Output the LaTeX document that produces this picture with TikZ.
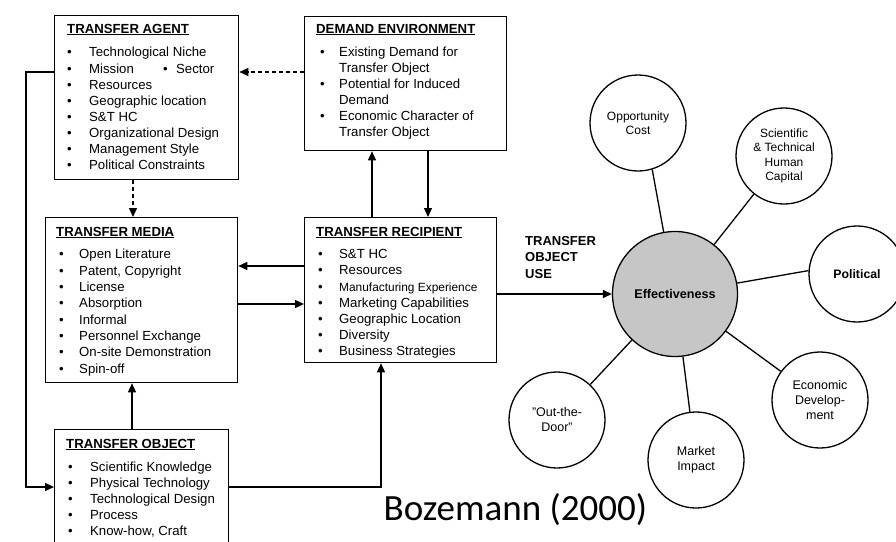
\documentclass[tikz,border=0pt]{standalone}
\usepackage{fontspec}
\setmainfont{Liberation Sans}
\newfontfamily\citefont{Carlito}
\usetikzlibrary{arrows.meta,calc}

% bullet with a fixed-width slot
\newcommand\bitem[1]{\makebox[#1][l]{\textbullet}}

\begin{document}
\begin{tikzpicture}[x=1pt,y=-1pt,
  box/.style={draw, line width=1.3pt, inner sep=0pt, anchor=north west},
  head/.style={anchor=base west, inner sep=0pt, font=\fontsize{13.2}{16}\selectfont\bfseries},
  items/.style={anchor=north west, inner sep=0pt, align=left},
  link/.style={line width=1.3pt},
  dashlink/.style={line width=1.3pt, dash pattern=on 4pt off 3pt},
  tip/.style={-{Triangle[length=9pt,width=8pt]}},
  ball/.style={circle, draw, line width=1.3pt, minimum size=96pt, inner sep=0pt,
    align=center, font=\fontsize{12.5}{15}\selectfont},
]
\useasboundingbox (0,0) rectangle (896,541);
\fill[white] (0,0) rectangle (896,541);
\clip (0,0) rectangle (896,541);

% ---- boxes ----
\node[box, minimum width=184pt, minimum height=164pt] (ta) at (54,15) {};
\node[box, minimum width=202pt, minimum height=134pt] (de) at (304,16) {};
\node[box, minimum width=192pt, minimum height=165pt] (tm) at (45,217) {};
\node[box, minimum width=192pt, minimum height=145pt] (tr) at (304,217) {};
\node[box, minimum width=174pt, minimum height=135pt] (to) at (54,429) {};

% ---- box contents ----
\node[head] (ta-h) at (67,33) {\underline{TRANSFER AGENT}};
\node[items, font=\fontsize{13.2}{16.1}\selectfont] (ta-l) at (67,47.2) {%
  \bitem{22pt}Technological Niche\\
  \bitem{22pt}\makebox[74pt][l]{Mission}\bitem{13pt}Sector\\
  \bitem{22pt}Resources\\
  \bitem{22pt}Geographic location\\
  \bitem{22pt}S\&T HC\\
  \bitem{22pt}Organizational Design\\
  \bitem{22pt}Management Style\\
  \bitem{22pt}Political Constraints};

\node[head] (de-h) at (316,33) {\underline{DEMAND ENVIRONMENT}};
\node[items, font=\fontsize{13.2}{15.9}\selectfont] (de-l) at (320,47.2) {%
  \bitem{19pt}Existing Demand for\\
  \makebox[19pt]{}Transfer Object\\
  \bitem{19pt}Potential for Induced\\
  \makebox[19pt]{}Demand\\
  \bitem{19pt}Economic Character of\\
  \makebox[19pt]{}Transfer Object};

\node[head] (tm-h) at (56,236) {\underline{TRANSFER MEDIA}};
\node[items, font=\fontsize{13.2}{16.3}\selectfont] (tm-l) at (59,249.2) {%
  \bitem{20pt}Open Literature\\
  \bitem{20pt}Patent, Copyright\\
  \bitem{20pt}License\\
  \bitem{20pt}Absorption\\
  \bitem{20pt}Informal\\
  \bitem{20pt}Personnel Exchange\\
  \bitem{20pt}On-site Demonstration\\
  \bitem{20pt}Spin-off};

\node[head] (tr-h) at (316,236) {\underline{TRANSFER RECIPIENT}};
\node[items, font=\fontsize{13.2}{16.2}\selectfont] (tr-l) at (318,249.2) {%
  \bitem{21pt}S\&T HC\\
  \bitem{21pt}Resources\\
  \bitem{21pt}{\fontsize{11.9}{16.2}\selectfont Manufacturing Experience}\\
  \bitem{21pt}Marketing Capabilities\\
  \bitem{21pt}Geographic Location\\
  \bitem{21pt}Diversity\\
  \bitem{21pt}Business Strategies};

\node[head] (to-h) at (66,448) {\underline{TRANSFER OBJECT}};
\node[items, font=\fontsize{13.2}{16}\selectfont] (to-l) at (68,462.2) {%
  \bitem{22pt}Scientific Knowledge\\
  \bitem{22pt}Physical Technology\\
  \bitem{22pt}Technological Design\\
  \bitem{22pt}Process\\
  \bitem{22pt}Know-how, Craft};

% ---- effectiveness cluster ----
\node[circle, draw, line width=1.3pt, fill=gray!45, minimum size=125pt, inner sep=0pt,
  font=\fontsize{12.6}{15}\selectfont\bfseries] (eff) at (675,294) {Effectiveness};
\node[ball, font=\fontsize{12}{14.5}\selectfont] (opp) at (638,123) {Opportunity\\Cost};
\node[ball, font=\fontsize{12}{14.5}\selectfont] (sci) at (784,156) {Scientific\\\& Technical\\Human\\Capital};
\node[ball, font=\fontsize{12.3}{15}\selectfont\bfseries] (pol) at (857,274) {Political};
\node[ball] (eco) at (820,400) {Economic\\Develop-\\ment};
\node[ball] (mkt) at (696,460) {Market\\Impact};
\node[ball] (out) at (557,420) {"Out-the-\\Door"};

\draw[link] (eff) -- (opp.-73);
\draw[link] (eff) -- (sci);
\draw[link] (eff) -- (pol.176);
\draw[link] (eff) -- (eco);
\draw[link] (eff) -- (mkt);
\draw[link] (eff) -- (out);

\node[anchor=north west, inner sep=0pt, align=left,
  font=\fontsize{13}{16.5}\selectfont\bfseries] (use) at (525,236) {TRANSFER\\OBJECT\\USE};

% ---- connectors ----
\coordinate (ya) at (0,72);
\coordinate (yb) at (0,487);
\coordinate (yc) at (0,266);
\coordinate (yd) at (0,304);
\coordinate (xa) at (133,0);
\coordinate (xe) at (132,0);
\coordinate (xb) at (372,0);
\coordinate (xc) at (428,0);
\coordinate (xd) at (381,0);

\draw[dashlink, tip] (de.west |- ya) -- (ta.east |- ya);
\draw[dashlink, tip] (ta.south -| xa) -- (tm.north -| xa);
\draw[link, tip] (ta.west |- ya) -- ++(-28,0) |- (to.west |- yb);
\draw[link, tip] (tr.north -| xb) -- (de.south -| xb);
\draw[link, tip] (de.south -| xc) -- (tr.north -| xc);
\draw[link, tip] (tr.west |- yc) -- (tm.east |- yc);
\draw[link, tip] (tm.east |- yd) -- (tr.west |- yd);
\draw[link, tip] (to.north -| xe) -- (tm.south -| xe);
\draw[link, tip] (to.east |- yb) -| (tr.south -| xd);
\draw[link, tip] (tr.east |- eff.west) -- (eff.west);

% ---- source ----
\node[anchor=base west, inner sep=0pt, font=\citefont\fontsize{37}{42}\selectfont] (cite) at (383.5,520) {Bozemann (2000)};
\end{tikzpicture}
\end{document}
